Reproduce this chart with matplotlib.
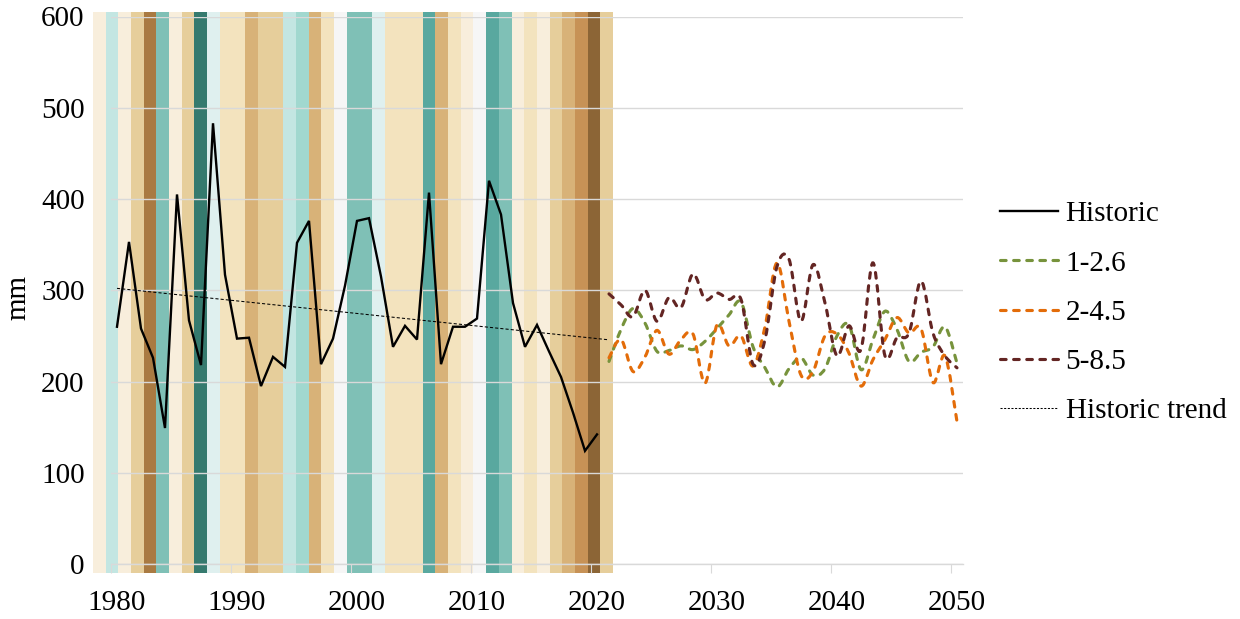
import numpy as np
import matplotlib
matplotlib.use("Agg")
import matplotlib.pyplot as plt
from matplotlib.path import Path
from matplotlib.patches import PathPatch
from matplotlib.lines import Line2D

plt.rcParams['font.family'] = ['Liberation Serif', 'DejaVu Serif']

# ---------------- data ----------------
years_hist = list(range(1980, 2021))
historic = [260, 353, 258, 226, 149, 405, 267, 218, 483, 317,
            247, 248, 195, 227, 216, 352, 376, 219, 247, 305,
            376, 379, 315, 238, 261, 246, 407, 219, 260, 260,
            269, 420, 383, 286, 238, 262, 233, 205, 166, 124, 142]

years_proj = list(range(2021, 2051))
ssp126 = [222, 257, 280, 264, 233, 234, 239, 235, 244, 258,
          273, 287, 238, 215, 194, 214, 226, 207, 214, 250,
          262, 213, 246, 277, 257, 222, 232, 238, 260, 220]
ssp245 = [226, 246, 211, 227, 256, 230, 246, 252, 198, 262,
          239, 250, 217, 260, 330, 266, 207, 211, 250, 252,
          231, 195, 224, 246, 270, 253, 258, 199, 228, 156]
ssp585 = [296, 284, 271, 300, 266, 292, 281, 318, 290, 297,
          290, 290, 219, 246, 326, 334, 266, 328, 286, 228,
          261, 235, 330, 228, 248, 253, 310, 253, 228, 215]

series_labels = ['Historic', '1-2.6', '2-4.5', '5-8.5', 'Historic trend']
x_tick_labels = ['1980', '1990', '2000', '2010', '2020', '2030', '2040', '2050']
y_tick_labels = ['0', '100', '200', '300', '400', '500', '600']

# warming-stripe background colours, one per stripe
C_CREAM = '#F8EEDC'; C_LTEAL = '#C3E6E2'; C_TAN = '#E6CE9B'; C_BROWN = '#A97A42'
C_TEAL = '#7FC0B6'; C_DTEAL = '#357A6E'; C_VLTEAL = '#DFF0EF'; C_LTAN = '#F3E3BE'
C_MTAN = '#D8B278'; C_TEAL2 = '#59A89F'; C_WHITE = '#F6F6F6'; C_MINT = '#A1D8CF'
C_OBROWN = '#C79256'; C_DBROWN = '#8C6536'
stripe_colors = [C_CREAM, C_LTEAL, C_CREAM, C_TAN, C_BROWN, C_TEAL, C_CREAM, C_TAN,
                 C_DTEAL, C_VLTEAL, C_LTAN, C_LTAN, C_MTAN, C_TAN, C_TAN, C_LTEAL,
                 C_MINT, C_MTAN, C_LTAN, C_WHITE, C_TEAL, C_TEAL, C_VLTEAL, C_LTAN,
                 C_LTAN, C_LTAN, C_TEAL2, C_MTAN, C_LTAN, C_CREAM, C_WHITE, C_TEAL2,
                 C_TEAL, C_CREAM, C_LTAN, C_CREAM, C_TAN, C_MTAN, C_OBROWN, C_DBROWN,
                 C_TAN]

# ---------------- helpers ----------------
def smooth_path(x, y):
    x = np.asarray(x, float); y = np.asarray(y, float)
    n = len(x)
    verts = [(x[0], y[0])]
    codes = [Path.MOVETO]
    for i in range(n - 1):
        p0 = i - 1 if i > 0 else i
        p3 = i + 2 if i + 2 < n else i + 1
        c1 = (x[i] + (x[i + 1] - x[p0]) / 6.0, y[i] + (y[i + 1] - y[p0]) / 6.0)
        c2 = (x[i + 1] - (x[p3] - x[i]) / 6.0, y[i + 1] - (y[p3] - y[i]) / 6.0)
        verts += [c1, c2, (x[i + 1], y[i + 1])]
        codes += [Path.CURVE4] * 3
    return Path(verts, codes)

# ---------------- figure ----------------
fig = plt.figure(figsize=(12.4, 6.19), dpi=100)
ax = fig.add_axes([111 / 1240, 55 / 619, 852 / 1240, 547.5 / 619])
ax.set_xlim(1979.5, 2050.5)
ax.set_ylim(0, 600)

# stripes (background picture spanning slightly beyond plot area)
edges = np.linspace(1978.0, 2021.33, len(stripe_colors) + 1)
for i, c in enumerate(stripe_colors):
    ax.axvspan(edges[i], edges[i + 1], ymin=-9 / 547.5, ymax=1 + 4.5 / 547.5,
               color=c, lw=0, clip_on=False, zorder=0)

ax.set_axisbelow(True)
ax.yaxis.grid(True, color='#D9D9D9', lw=1.0)
ax.set_yticks(range(0, 601, 100))
ax.set_yticklabels(y_tick_labels)

ax.set_xticks(range(1980, 2051, 10))
ax.set_xticklabels(x_tick_labels)
ax.set_xticks(np.arange(1979.5, 2050, 10), minor=True)

for s in ['left', 'top', 'right']:
    ax.spines[s].set_visible(False)
ax.spines['bottom'].set_color('#D9D9D9')
ax.spines['bottom'].set_linewidth(1.0)

fs = 21
ax.tick_params(axis='x', which='major', length=0, pad=18.5, labelsize=fs)
ax.tick_params(axis='x', which='minor', length=6.5, width=0.8, color='#D9D9D9',
               direction='out')
ax.tick_params(axis='y', which='both', length=0, pad=19, labelsize=fs)

fig.text(18 / 1240, 1 - 298 / 619, 'mm', rotation=90, ha='center', va='center',
         fontsize=fs)

# historic
ax.plot(years_hist, historic, color='black', lw=1.7, zorder=4,
        solid_joinstyle='miter')

# trend (linear fit, extended one period forward)
coef = np.polyfit(years_hist, historic, 1)
tx = np.array([years_hist[0], years_hist[-1] + 1])
ax.plot(tx, np.polyval(coef, tx), color='black', lw=0.75, ls=(0, (3, 2)), zorder=4)

# projections (smoothed)
proj_styles = [(ssp126, '#77933C'), (ssp245, '#E36C09'), (ssp585, '#632523')]
dash = (0, (1.8, 2.4))
for vals, col in proj_styles:
    p = PathPatch(smooth_path(years_proj, vals), fill=False, edgecolor=col, lw=2.25,
                  linestyle=dash, capstyle='round', zorder=3)
    ax.add_patch(p)

handles = [Line2D([], [], color='black', lw=1.7),
           Line2D([], [], color='#77933C', lw=2.25, ls=dash, dash_capstyle='round'),
           Line2D([], [], color='#E36C09', lw=2.25, ls=dash, dash_capstyle='round'),
           Line2D([], [], color='#632523', lw=2.25, ls=dash, dash_capstyle='round'),
           Line2D([], [], color='black', lw=0.75, ls=(0, (2, 1.5)))]
fig.legend(handles, series_labels, loc='center left',
           bbox_to_anchor=(1000 / 1240, 1 - 312.5 / 619), frameon=False,
           fontsize=fs, handlelength=2.0, handletextpad=0.25, labelspacing=0.78,
           borderpad=0, borderaxespad=0)

fig.savefig('out.png', dpi=100)
